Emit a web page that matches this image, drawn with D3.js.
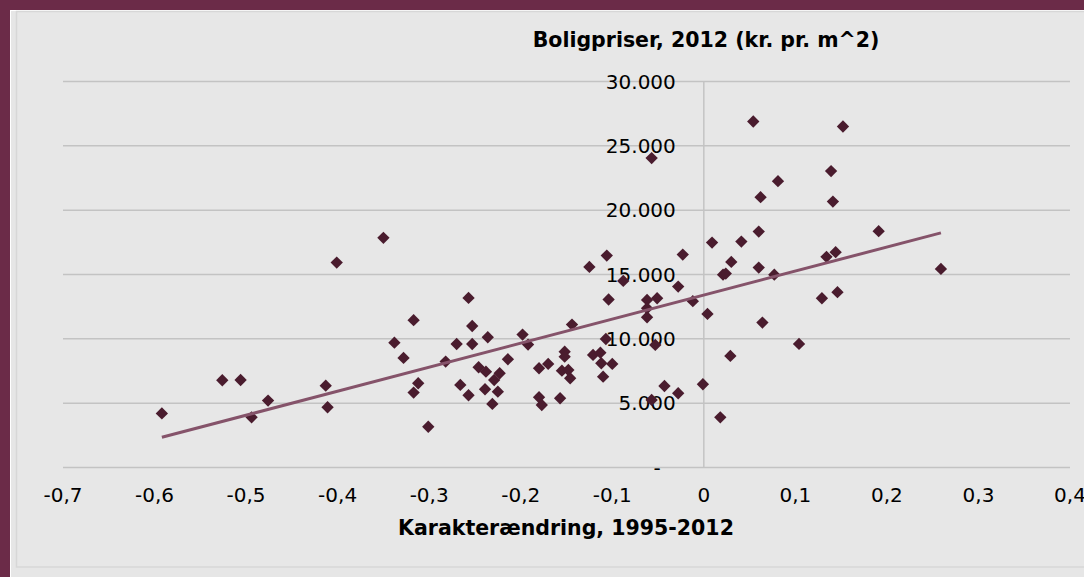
<!DOCTYPE html>
<html>
<head>
<meta charset="utf-8">
<script src="https://cdn.jsdelivr.net/npm/d3@7"></script>
<style>
  body { margin: 0; background: #fff; }
  text { font-family: 'DejaVu Sans', Verdana, sans-serif; fill: #000; }
</style>
</head>
<body>
<div id="chart"></div>
<script>
// Karakterændring 1995-2012 (x) og boligpriser 2012 (y)
const karakter = [
  -0.592, -0.526, -0.506, -0.494, -0.476, -0.413, -0.411, -0.401, -0.350, -0.338,
  -0.328, -0.317, -0.317, -0.312, -0.301, -0.282, -0.270, -0.266, -0.257, -0.257,
  -0.253, -0.253, -0.246, -0.238, -0.239, -0.236, -0.231, -0.229, -0.225, -0.223,
  -0.214, -0.198, -0.192, -0.180, -0.180, -0.177, -0.170, -0.157, -0.155, -0.152,
  -0.152, -0.148, -0.146, -0.144, -0.125, -0.121, -0.113, -0.112, -0.110, -0.107,
  -0.106, -0.104, -0.100, -0.088, -0.062, -0.062, -0.062, -0.057, -0.057, -0.053,
  -0.051, -0.043, -0.028, -0.028, -0.023, -0.012, -0.001, 0.004, 0.009, 0.018,
  0.021, 0.024, 0.029, 0.030, 0.041, 0.054, 0.060, 0.060, 0.062, 0.064,
  0.077, 0.081, 0.104, 0.129, 0.134, 0.139, 0.141, 0.144, 0.146, 0.152,
  0.191, 0.259
]
const boligpris = [
  4200, 6780, 6800, 3900, 5200, 6360, 4680, 15925, 17850, 9700,
  8515, 11450, 5820, 6550, 3170, 8230, 9600, 6415, 13180, 5615,
  11000, 9600, 7790, 7450, 6080, 10125, 4940, 6800, 5895, 7325,
  8415, 10330, 9550, 7715, 5460, 4860, 8050, 5380, 7525, 9005,
  8615, 7580, 6935, 11105, 15590, 8750, 8925, 8105, 7060, 9990,
  16470, 13060, 8050, 14500, 13025, 12380, 11680, 24045, 5250, 9525,
  13155, 6335, 14060, 5770, 16545, 12925, 6470, 11935, 17480, 3900,
  14990, 15070, 8670, 15980, 17560, 26890, 18335, 15535, 21010, 11260,
  14990, 22255, 9605, 13155, 16370, 23035, 20670, 16735, 13625, 26500,
  18365, 15435
]

// lineær tendenslinje (aflæst)
const trendSlope = 18669
const trendIntercept = 13400

const xTicks = [-0.7, -0.6, -0.5, -0.4, -0.3, -0.2, -0.1, 0, 0.1, 0.2, 0.3, 0.4]
const yTicks = [0, 5000, 10000, 15000, 20000, 25000, 30000]

const chartTitle = 'Boligpriser, 2012 (kr. pr. m^2)'
const xTitle = 'Karakterændring, 1995-2012'

const W = 1084
const H = 577
const margin = { top: 81.5, right: 14, bottom: 109.5, left: 63 }

const svg = d3.select('#chart')
  .append('svg')
  .attr('width', W)
  .attr('height', H)

// frame
svg.append('rect').attr('width', W).attr('height', H).attr('fill', '#fff')
svg.append('rect').attr('x', 11).attr('y', 11).attr('width', W).attr('height', H).attr('fill', '#e6e6e6')
svg.append('rect')
  .attr('x', 16.5).attr('y', 11.5)
  .attr('width', W).attr('height', 555.5)
  .attr('fill', '#e7e7e7')
  .attr('stroke', '#d7d7d7')
  .attr('stroke-width', 1.5)
svg.append('rect').attr('width', W).attr('height', 10).attr('fill', '#6b2b48')
svg.append('rect').attr('width', 10).attr('height', H).attr('fill', '#6b2b48')

const x = d3.scaleLinear()
  .domain([-0.7, 0.4])
  .range([margin.left, W - margin.right])

const y = d3.scaleLinear()
  .domain([0, 30000])
  .range([H - margin.bottom, margin.top])

// gridlines
svg.append('g')
  .selectAll('line')
  .data(yTicks)
  .join('line')
  .attr('x1', x(-0.7))
  .attr('x2', x(0.4))
  .attr('y1', d => y(d))
  .attr('y2', d => y(d))
  .attr('stroke', '#c3c3c3')
  .attr('stroke-width', 1.5)

// vertical axis at x = 0
svg.append('line')
  .attr('x1', x(0)).attr('x2', x(0))
  .attr('y1', y(30000)).attr('y2', y(0))
  .attr('stroke', '#c3c3c3')
  .attr('stroke-width', 1.5)

// danish number format, plain hyphen as minus
const fmt = d3.formatLocale({ decimal: ',', thousands: '.', grouping: [3], currency: ['', ' kr.'], minus: '-' })
const yFmt = fmt.format(',.0f')
const xFmt = fmt.format('.1f')

svg.append('g')
  .selectAll('text')
  .data(yTicks)
  .join('text')
  .attr('x', x(0) - 28)
  .attr('dx', d => d === 0 ? -15 : 0)
  .attr('y', d => y(d) + 7)
  .attr('text-anchor', 'end')
  .style('font-size', '20px')
  .text(d => d === 0 ? '-' : yFmt(d))

// x tick labels
svg.append('g')
  .selectAll('text')
  .data(xTicks)
  .join('text')
  .attr('x', d => x(d))
  .attr('y', y(0) + 34)
  .attr('text-anchor', 'middle')
  .style('font-size', '20px')
  .text(d => d === 0 ? '0' : xFmt(d))

// points
const diamond = d3.symbol(d3.symbolSquare, 76)
svg.append('g')
  .selectAll('path')
  .data(karakter.map((k, i) => ({ k, p: boligpris[i] })))
  .join('path')
  .attr('d', diamond)
  .attr('transform', d => `translate(${x(d.k)}, ${y(d.p)}) rotate(45)`)
  .attr('fill', '#4a1c2e')

// trendline on top of the points
const xExt = d3.extent(karakter)
svg.append('line')
  .attr('x1', x(xExt[0]))
  .attr('y1', y(trendIntercept + trendSlope * xExt[0]))
  .attr('x2', x(xExt[1]))
  .attr('y2', y(trendIntercept + trendSlope * xExt[1]))
  .attr('stroke', '#85536a')
  .attr('stroke-width', 3)

// titles
svg.append('text')
  .attr('x', 706)
  .attr('y', 47)
  .attr('text-anchor', 'middle')
  .style('font-size', '20.5px')
  .style('font-weight', 'bold')
  .text(chartTitle)

svg.append('text')
  .attr('x', 566)
  .attr('y', 535)
  .attr('text-anchor', 'middle')
  .style('font-size', '20.5px')
  .style('font-weight', 'bold')
  .text(xTitle)
</script>
</body>
</html>
